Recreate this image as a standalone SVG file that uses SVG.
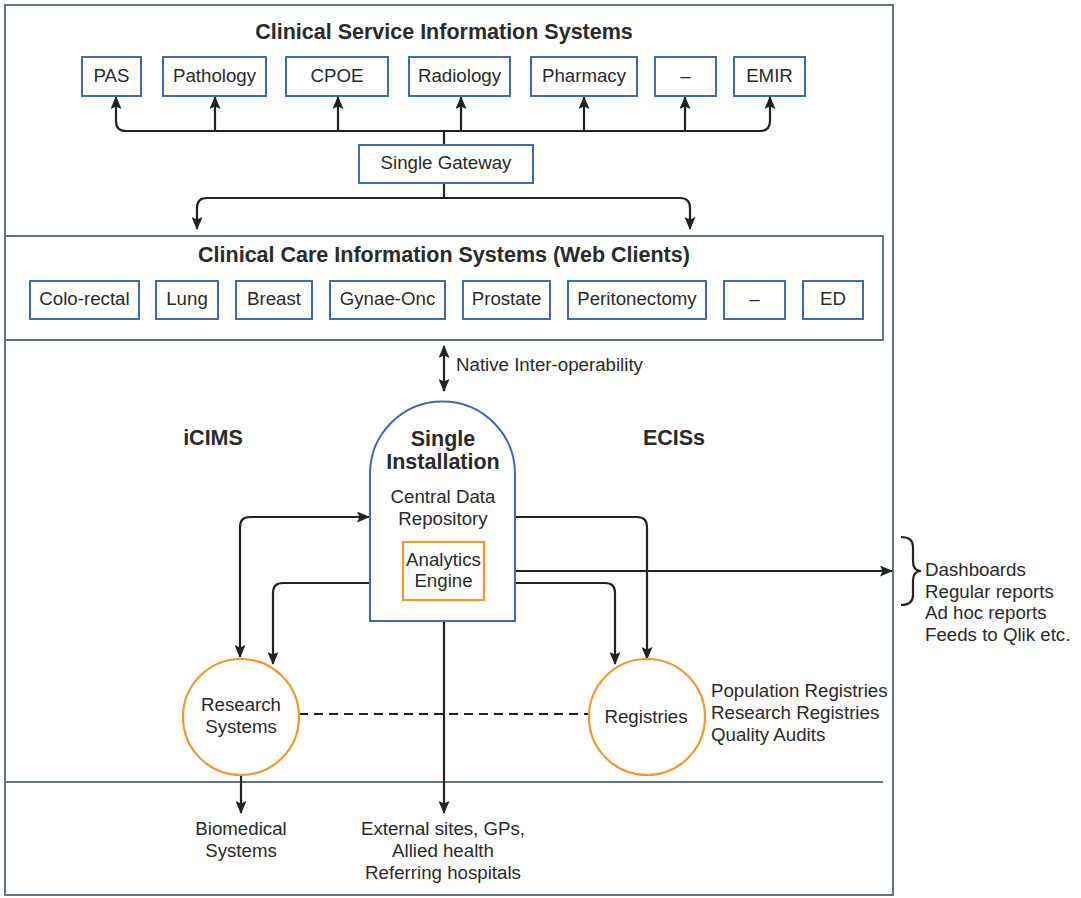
<svg xmlns="http://www.w3.org/2000/svg" width="1081" height="898" viewBox="0 0 1081 898">
<style>
text{font-family:"Liberation Sans",Arial,sans-serif;fill:#2b2b2b}
.t{font-size:18.7px;text-anchor:middle}
.l{font-size:18.7px}
.b{font-size:21.5px;font-weight:bold;text-anchor:middle}
.frame{fill:none;stroke:#617590;stroke-width:2}
.box{fill:#fff;stroke:#3c6cbd;stroke-width:2}
.org{fill:#fff;stroke:#f29a30;stroke-width:2.2}
.c{fill:none;stroke:#232323;stroke-width:2.2}
</style>
<defs>
<marker id="ah" viewBox="0 0 13 11" refX="12" refY="5.5" markerWidth="13" markerHeight="11" markerUnits="userSpaceOnUse" orient="auto-start-reverse">
<path d="M0,0 L13,5.5 L0,11 L2.5,5.5 z" fill="#232323"/>
</marker>
</defs>
<rect class="frame" x="5" y="5" width="888" height="890" fill="#fff"/>
<rect class="frame" x="5" y="236" width="878" height="104"/>
<line class="frame" x1="5" y1="782" x2="883" y2="782"/>

<g id="titles">
<text class="b" x="444" y="39">Clinical Service Information Systems</text>
<text class="b" x="444" y="262">Clinical Care Information Systems (Web Clients)</text>
<text class="b" x="213" y="445">iCIMS</text>
<text class="b" x="674" y="445">ECISs</text>
</g>

<g id="connectors">
<path class="c" d="M444,131 H126 Q116,131 116,121 V97" marker-end="url(#ah)"/>
<path class="c" d="M444,131 H760 Q770,131 770,121 V97" marker-end="url(#ah)"/>
<path class="c" d="M215,131 V97" marker-end="url(#ah)"/>
<path class="c" d="M338,131 V97" marker-end="url(#ah)"/>
<path class="c" d="M461,131 V97" marker-end="url(#ah)"/>
<path class="c" d="M584,131 V97" marker-end="url(#ah)"/>
<path class="c" d="M685,131 V97" marker-end="url(#ah)"/>
<path class="c" d="M444,131 V145"/>
<path class="c" d="M444,183 V198"/>
<path class="c" d="M444,198 H207 Q197,198 197,208 V229" marker-end="url(#ah)"/>
<path class="c" d="M444,198 H680 Q690,198 690,208 V229" marker-end="url(#ah)"/>
<path class="c" d="M444,346 V391" marker-start="url(#ah)" marker-end="url(#ah)"/>
<path class="c" d="M369,517 H250 Q240,517 240,527 V657" marker-start="url(#ah)" marker-end="url(#ah)"/>
<path class="c" d="M403,583 H283 Q273,583 273,593 V664" marker-end="url(#ah)"/>
<path class="c" d="M515,517 H637 Q647,517 647,527 V659" marker-end="url(#ah)"/>
<path class="c" d="M484,583 H605 Q615,583 615,593 V664" marker-end="url(#ah)"/>
<path class="c" d="M484,571 H892" marker-end="url(#ah)"/>
<path class="c" d="M299,714 H589" stroke-dasharray="9,6"/>
<path class="c" d="M241,775 V813" marker-end="url(#ah)"/>
<path class="c" d="M444,621 V813" marker-end="url(#ah)"/>
<path class="c" d="M901,537 Q913,537 913,547 V561 Q913,571 921,571 Q913,571 913,581 V595 Q913,605 901,605"/>
</g>

<g id="pas"><rect class="box" x="82" y="57" width="59" height="39"/><text class="t" x="111.5" y="82">PAS</text></g>
<g id="pathology"><rect class="box" x="163" y="57" width="103" height="39"/><text class="t" x="214.5" y="82">Pathology</text></g>
<g id="cpoe"><rect class="box" x="286" y="57" width="102" height="39"/><text class="t" x="337" y="82">CPOE</text></g>
<g id="radiology"><rect class="box" x="409" y="57" width="101" height="39"/><text class="t" x="459.5" y="82">Radiology</text></g>
<g id="pharmacy"><rect class="box" x="531" y="57" width="106" height="39"/><text class="t" x="584" y="82">Pharmacy</text></g>
<g id="dash1"><rect class="box" x="655" y="57" width="61" height="39"/><text class="t" x="685.5" y="82">–</text></g>
<g id="emir"><rect class="box" x="734" y="57" width="71" height="39"/><text class="t" x="769.5" y="82">EMIR</text></g>

<g id="gateway"><rect class="box" x="359" y="145" width="174" height="38"/><text class="t" x="446" y="169">Single Gateway</text></g>

<g id="colorectal"><rect class="box" x="30" y="281" width="109" height="38"/><text class="t" x="84.5" y="305">Colo-rectal</text></g>
<g id="lung"><rect class="box" x="156" y="281" width="62" height="38"/><text class="t" x="187" y="305">Lung</text></g>
<g id="breast"><rect class="box" x="236" y="281" width="76" height="38"/><text class="t" x="274" y="305">Breast</text></g>
<g id="gynae"><rect class="box" x="330" y="281" width="115" height="38"/><text class="t" x="387.5" y="305">Gynae-Onc</text></g>
<g id="prostate"><rect class="box" x="463" y="281" width="87" height="38"/><text class="t" x="506.5" y="305">Prostate</text></g>
<g id="peritonectomy"><rect class="box" x="568" y="281" width="138" height="38"/><text class="t" x="637" y="305">Peritonectomy</text></g>
<g id="dash2"><rect class="box" x="724" y="281" width="61" height="38"/><text class="t" x="754.5" y="305">–</text></g>
<g id="ed"><rect class="box" x="803" y="281" width="60" height="38"/><text class="t" x="833" y="305">ED</text></g>

<text class="l" x="456" y="371">Native Inter-operability</text>

<g id="installation">
<path class="box" d="M370,621 V474 A72.5,72.5 0 0 1 515,474 V621 Z"/>
<text class="b" x="443" y="446">Single</text>
<text class="b" x="443" y="469">Installation</text>
<text class="t" x="443" y="503">Central Data</text>
<text class="t" x="443" y="525">Repository</text>
</g>
<g id="analytics">
<rect class="org" x="403" y="542" width="81" height="58"/>
<text class="t" x="443.5" y="566">Analytics</text>
<text class="t" x="443.5" y="587">Engine</text>
</g>

<g id="research">
<circle class="org" cx="241" cy="717" r="58"/>
<text class="t" x="241" y="711">Research</text>
<text class="t" x="241" y="733">Systems</text>
</g>
<g id="registries">
<circle class="org" cx="647" cy="717" r="58"/>
<text class="t" x="646" y="723">Registries</text>
</g>

<g id="registries-list">
<text class="l" x="711" y="697">Population Registries</text>
<text class="l" x="711" y="719">Research Registries</text>
<text class="l" x="711" y="741">Quality Audits</text>
</g>
<g id="outputs">
<text class="l" x="925" y="576">Dashboards</text>
<text class="l" x="925" y="598">Regular reports</text>
<text class="l" x="925" y="619">Ad hoc reports</text>
<text class="l" x="925" y="641">Feeds to Qlik etc.</text>
</g>
<g id="biomedical">
<text class="t" x="241" y="835">Biomedical</text>
<text class="t" x="241" y="857">Systems</text>
</g>
<g id="external">
<text class="t" x="443" y="835">External sites, GPs,</text>
<text class="t" x="443" y="857">Allied health</text>
<text class="t" x="443" y="879">Referring hospitals</text>
</g>
</svg>
